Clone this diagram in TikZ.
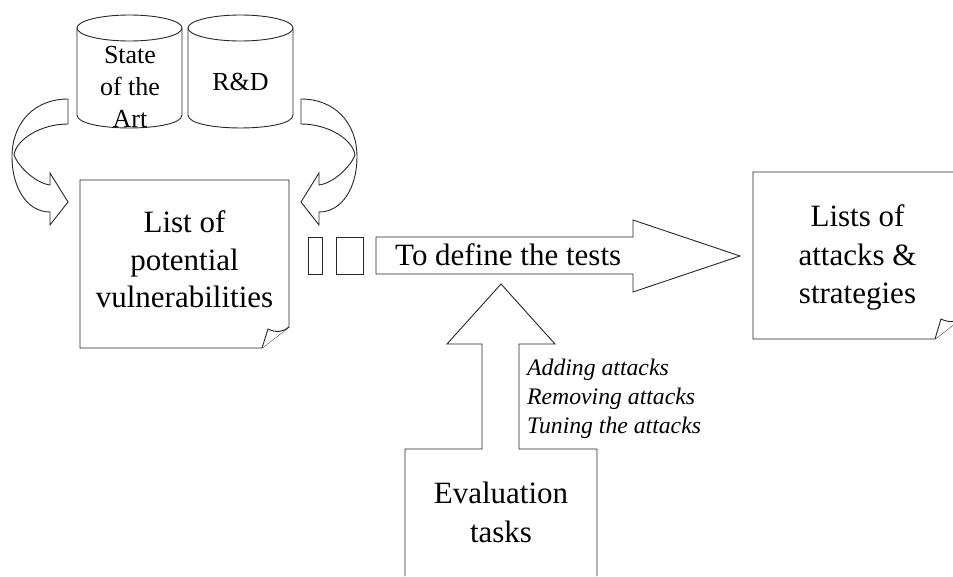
\documentclass[tikz,border=0pt]{standalone}
\usepackage{fontspec}
\setmainfont{Liberation Serif}
\begin{document}
\begin{tikzpicture}[x=1pt,y=-1pt,
  shp/.style={draw=black!85, line width=0.9pt, fill=white, line join=miter},
  bigtxt/.style={font=\fontsize{31}{38}\selectfont, inner sep=0pt, anchor=base},
  cyltxt/.style={font=\fontsize{26}{32}\selectfont, inner sep=0pt, anchor=base},
  itxt/.style={font=\fontsize{23.7}{29}\selectfont\itshape, inner sep=0pt, anchor=base west},
  curvarrow/.pic={
    \draw[shp] (68,99) .. controls (35,99) and (12,122) .. (12,157)
      .. controls (12,186) and (26,212) .. (50,212) -- (50,225) -- (68,202) -- (50,173) -- (50,185)
      .. controls (35,183) and (18,166) .. (14,155)
      .. controls (16,140) and (40,124) .. (68,124) -- cycle;
  }]
\useasboundingbox (0,0) rectangle (953,576);

% cylinders
\draw[shp] (77,28) -- (77,115) .. controls (77,132.3) and (182,132.3) .. (182,115) -- (182,28);
\draw[shp] (129.5,28) ellipse [x radius=52.5pt, y radius=13pt];
\draw[shp] (188,28) -- (188,115) .. controls (188,132.3) and (293,132.3) .. (293,115) -- (293,28);
\draw[shp] (240.5,28) ellipse [x radius=52.5pt, y radius=13pt];
\node[cyltxt] (sa1) at (130,63) {State};
\node[cyltxt] (sa2) at (130,95) {of the};
\node[cyltxt] (sa3) at (130,127) {Art};
\node[cyltxt] (rd) at (240.5,90) {R\&D};

% curved arrows
\pic (larrow) at (0,0) {curvarrow};
\pic[xscale=-1] (rarrow) at (369,0) {curvarrow};

% left document
\draw[shp] (80,180) -- (289,180) -- (289,327) -- (262,348) -- (80,348) -- cycle;
\draw[shp] (262,348) -- (268,329) .. controls (276,333) and (283,332) .. (289,327);
\node[bigtxt] (lv1) at (184.5,232) {List of};
\node[bigtxt] (lv2) at (184.5,270) {potential};
\node[bigtxt] (lv3) at (184.5,307) {vulnerabilities};

% right document
\draw[shp] (753,172) -- (962,172) -- (962,318) -- (935,339) -- (753,339) -- cycle;
\draw[shp] (935,339) -- (941,319) .. controls (949,323) and (956,322) .. (962,318);
\node[bigtxt] (la1) at (857.5,226) {Lists of};
\node[bigtxt] (la2) at (857.5,265) {attacks \&};
\node[bigtxt] (la3) at (857.5,303) {strategies};

% small rectangles
\draw[shp] (308,237) rectangle (322,274);
\draw[shp] (336,237) rectangle (363,274);

% big right arrow
\draw[shp] (376,237) -- (633,237) -- (633,220) -- (740,256) -- (633,292) -- (633,274) -- (376,274) -- cycle;
\node[bigtxt, anchor=base west] (def) at (395,265) {To define the tests};

% up arrow with evaluation box
\draw[shp] (405,576) -- (405,449) -- (482,449) -- (482,344) -- (447,344) -- (501,284)
  -- (555,344) -- (519,344) -- (519,449) -- (597,449) -- (597,576);
\node[bigtxt] (ev1) at (501,503) {Evaluation};
\node[bigtxt] (ev2) at (501,542) {tasks};

% italic labels
\node[itxt] (it1) at (527,375) {Adding attacks};
\node[itxt] (it2) at (527,404) {Removing attacks};
\node[itxt] (it3) at (527,433) {Tuning the attacks};
\end{tikzpicture}
\end{document}
